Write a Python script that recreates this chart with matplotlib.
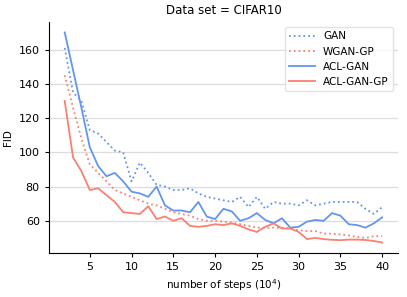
import numpy as np
import matplotlib
matplotlib.use('Agg')
import matplotlib.pyplot as plt

## FID curves, steps 2..40 (x 10^4)
steps = np.arange(2, 41)

gan = [161, 135, 130, 113, 111, 106, 101, 100, 83, 94, 88, 81, 80, 78, 78,
       79, 76, 74, 73, 72, 71, 74, 68, 74, 67, 71, 70, 70, 69, 72, 69, 70, 71,
       71, 71, 71, 67, 64, 68]
wgan_gp = [145, 126, 108, 93, 88, 83, 78, 76, 74, 72, 70, 69, 67, 65, 64, 63,
           61, 60, 60, 59.5, 59, 58, 57, 56, 56, 56, 56, 55.5, 54.5, 54, 54,
           52.5, 52.5, 52, 51.5, 50.5, 50, 51, 51]
acl_gan = [170, 148, 126, 103, 92, 86, 88, 83, 77, 76, 74, 80, 69, 66, 66, 65,
           71, 62.5, 61, 67, 65.5, 60, 61.5, 64.5, 60.5, 58.5, 61.5, 56, 56.5,
           59.5, 60.5, 60, 64.5, 63, 58, 57.5, 56, 58.5, 62]
acl_gan_gp = [130, 97, 89, 78, 79, 75, 71, 65, 64.5, 64, 68.5, 61, 62.5, 60,
              61.5, 57, 56.5, 57, 58, 57.5, 58.5, 57, 55, 53.5, 56.5, 58.5, 55.5,
              55.5, 53.5, 49.3, 50, 49.3, 48.9, 48.7, 49, 49, 48.8, 48.2, 47.3]

blue = 'cornflowerblue'
red = 'salmon'

fig = plt.figure(figsize=(4.07, 2.97), dpi=100)
ax = fig.add_axes([0.12, 0.148, 0.858, 0.778])

ax.plot(steps, gan, ':', color=blue, lw=1.3, label='GAN')
ax.plot(steps, wgan_gp, ':', color=red, lw=1.3, label='WGAN-GP')
ax.plot(steps, acl_gan, '-', color=blue, lw=1.3, label='ACL-GAN')
ax.plot(steps, acl_gan_gp, '-', color=red, lw=1.3, label='ACL-GAN-GP')

ax.set_xticks([5, 10, 15, 20, 25, 30, 35, 40])
ax.set_yticks([60, 80, 100, 120, 140, 160])
ax.tick_params(labelsize=8, length=3, width=0.8)
ax.grid(axis='y', color='#dddddd', lw=0.9)
ax.set_axisbelow(True)
for s in ['top', 'right']:
    ax.spines[s].set_visible(False)

ax.set_xlabel('number of steps ($10^4$)', fontsize=7.5)
ax.set_ylabel('FID', fontsize=7.5)
ax.set_title('Data set = CIFAR10', fontsize=8.5)
leg = ax.legend(loc='upper right', fontsize=7.5, frameon=True, handlelength=2.5)
leg.get_frame().set_edgecolor('#dddddd')

fig.savefig('out.png', dpi=100)
